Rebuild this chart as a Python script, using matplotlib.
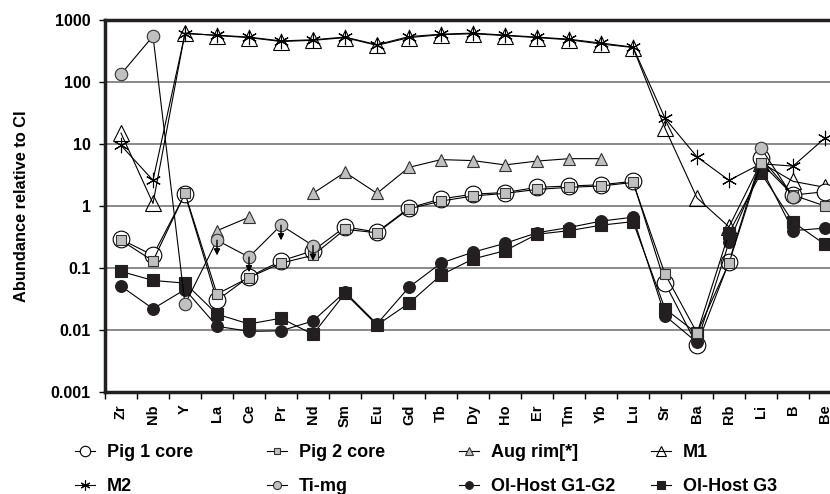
import numpy as np
import matplotlib
matplotlib.use('Agg')
import matplotlib.pyplot as plt
from matplotlib.lines import Line2D

plt.rcParams['font.family'] = ['Liberation Sans', 'DejaVu Sans']
plt.rcParams['font.weight'] = 'bold'

nan = np.nan

elementos = ['Zr', 'Nb', 'Y', 'La', 'Ce', 'Pr', 'Nd', 'Sm', 'Eu', 'Gd', 'Tb', 'Dy',
             'Ho', 'Er', 'Tm', 'Yb', 'Lu', 'Sr', 'Ba', 'Rb', 'Li', 'B', 'Be']

pig1_core = [0.29, 0.16, 1.55, 0.030, 0.072, 0.13, 0.19, 0.46, 0.38, 0.93, 1.3, 1.55,
             1.65, 2.0, 2.1, 2.2, 2.5, 0.057, 0.0057, 0.125, 5.9, 1.5, 1.7]
pig2_core = [0.28, 0.13, 1.6, 0.038, 0.07, 0.12, 0.16, 0.42, 0.37, 0.9, 1.2, 1.45,
             1.6, 1.85, 2.0, 2.1, 2.4, 0.08, 0.009, 0.12, 5.0, 1.5, 1.0]
aug_rim = [nan, nan, nan, 0.4, 0.66, nan, 1.6, 3.5, 1.6, 4.2, 5.6, 5.4,
           4.6, 5.3, 5.8, 5.8, nan, nan, nan, nan, nan, nan, nan]
m1 = [15, 1.1, 620, 560, 520, 450, 470, 520, 390, 520, 580, 600,
      560, 520, 480, 410, 360, 18, 1.35, 0.46, 5.0, 2.5, 2.0]
m2 = [9.5, 2.6, 600, 570, 530, 460, 480, 530, 400, 540, 590, 615,
      570, 530, 490, 425, 365, 26, 6.2, 2.6, 4.8, 4.4, 12.5]
ti_mg = [134, 550, 0.026, 0.28, 0.15, 0.49, 0.23, nan, nan, nan, nan, nan,
         nan, nan, nan, nan, nan, nan, nan, nan, 8.6, 1.4, nan]
ol_g1g2 = [0.051, 0.022, 0.045, 0.0115, 0.0095, 0.0097, 0.014, 0.041, 0.0125, 0.049, 0.12, 0.18,
           0.25, 0.37, 0.45, 0.57, 0.66, 0.017, 0.0063, 0.26, 4.2, 0.40, 0.44]
ol_g3 = [0.088, 0.063, 0.057, 0.018, 0.0125, 0.0155, 0.0085, 0.039, 0.012, 0.027, 0.077, 0.14,
         0.19, 0.35, 0.40, 0.49, 0.56, 0.022, 0.0088, 0.37, 3.4, 0.55, 0.24]

# limites superiores de Ti-mg (flechas hacia abajo)
flechas_ti = ['La', 'Ce', 'Pr', 'Nd']

fig = plt.figure(figsize=(8.3, 4.94), dpi=100)
ax = fig.add_axes([105 / 830, 1 - 392 / 494, 736 / 830, 372 / 494])

x = np.arange(len(elementos))

series = [
    ('Pig 1 core', pig1_core, dict(marker='o', ms=12, mfc='white', mec='black', mew=0.8)),
    ('Pig 2 core', pig2_core, dict(marker='s', ms=7.5, mfc='#c0c0c0', mec='#333333', mew=0.8)),
    ('Aug rim[*]', aug_rim, dict(marker='^', ms=8.5, mfc='#c0c0c0', mec='#333333', mew=0.8)),
    ('M1', m1, dict(marker='^', ms=11, mfc='none', mec='black', mew=0.8)),
    ('M2', m2, dict(marker=(6, 2, 0), ms=11, mfc='none', mec='black', mew=0.8)),
    ('Ti-mg', ti_mg, dict(marker='o', ms=9, mfc='#c0c0c0', mec='#333333', mew=0.8)),
    ('Ol-Host G1-G2', ol_g1g2, dict(marker='o', ms=8.5, mfc='#231f20', mec='#231f20', mew=0.8)),
    ('Ol-Host G3', ol_g3, dict(marker='s', ms=8.5, mfc='#231f20', mec='#231f20', mew=0.8)),
]

orden = {'Pig 1 core': 3, 'Pig 2 core': 4, 'Aug rim[*]': 2, 'M1': 2, 'M2': 2,
         'Ti-mg': 4, 'Ol-Host G1-G2': 3, 'Ol-Host G3': 3}

for nombre, valores, estilo in series:
    y = np.array(valores, dtype=float)
    ax.plot(x, y, color='black', lw=0.8, zorder=orden[nombre], **estilo)

for el in flechas_ti:
    i = elementos.index(el)
    v = ti_mg[i]
    ax.annotate('', xy=(i, v * 0.57), xytext=(i, v),
                arrowprops=dict(arrowstyle='-|>', color='black', lw=1.0,
                                mutation_scale=9, shrinkA=0, shrinkB=0), zorder=6)

ax.set_yscale('log')
ax.set_ylim(0.001, 1000)
ax.set_xlim(-0.5, len(elementos) - 0.5)
ax.set_yticks([0.001, 0.01, 0.1, 1, 10, 100, 1000])
ax.set_yticklabels(['0.001', '0.01', '0.1', '1', '10', '100', '1000'],
                   fontsize=11.5, fontweight='bold')
ax.minorticks_off()
ax.yaxis.grid(True, color='#808080', lw=1.3)
ax.set_axisbelow(True)
ax.tick_params(axis='y', direction='out', length=4.3, width=1, pad=6)

ax.set_xticks(x)
ax.set_xticklabels(elementos, rotation=90, fontsize=10.5, fontweight='bold')
ax.tick_params(axis='x', which='major', length=0, pad=9)
ax.set_xticks(np.arange(len(elementos) + 1) - 0.5, minor=True)
ax.tick_params(axis='x', which='minor', direction='out', length=5, width=1)

for lado in ['left', 'bottom', 'top', 'right']:
    ax.spines[lado].set_linewidth(2.5)
    ax.spines[lado].set_color('#231f20')

ax.set_ylabel('Abundance relative to CI', fontsize=11.8, fontweight='bold')
ax.yaxis.set_label_coords(29 / 830, 1 - 206 / 494, transform=fig.transFigure)

# leyenda debajo: 4 columnas de igual ancho, orden por filas
handles = []
for nombre, valores, estilo in series:
    e = dict(estilo)
    e['ms'] = min(e['ms'] * 0.65, 7.5)
    handles.append(Line2D([], [], color='black', lw=0.8, **e))
nombres = [s[0] for s in series]
for col in range(4):
    idx = [col, col + 4]
    fig.legend([handles[i] for i in idx], [nombres[i] for i in idx],
               loc='upper left', bbox_to_anchor=((75 + 192 * col) / 830, 1 - 444 / 494),
               frameon=False, prop={'weight': 'bold', 'size': 13},
               handlelength=1.1, handletextpad=0.65, borderpad=0, borderaxespad=0,
               labelspacing=0.95)

fig.savefig('out.png', dpi=100)
